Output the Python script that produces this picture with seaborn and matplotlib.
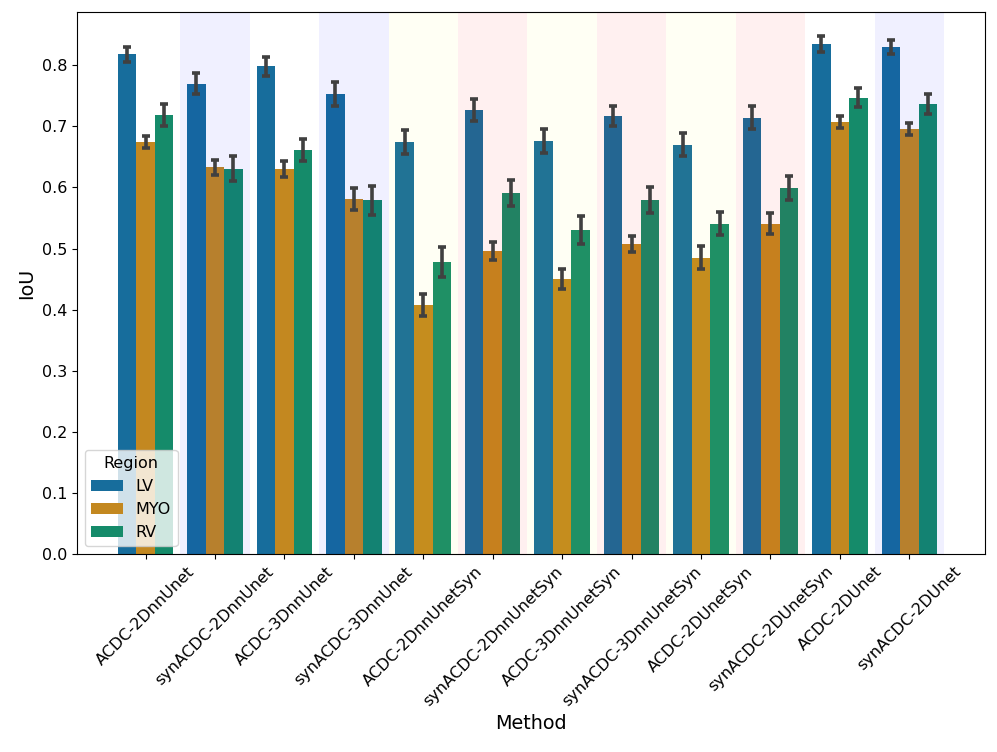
import matplotlib
matplotlib.use('Agg')
import matplotlib.pyplot as plt
import numpy as np
import pandas as pd
import seaborn as sns

methods = ['ACDC-2DnnUnet', 'synACDC-2DnnUnet', 'ACDC-3DnnUnet', 'synACDC-3DnnUnet',
           'ACDC-2DnnUnetSyn', 'synACDC-2DnnUnetSyn', 'ACDC-3DnnUnetSyn', 'synACDC-3DnnUnetSyn',
           'ACDC-2DUnetSyn', 'synACDC-2DUnetSyn', 'ACDC-2DUnet', 'synACDC-2DUnet']
regions = ['LV', 'MYO', 'RV']

lv_mean = [0.818, 0.770, 0.798, 0.753, 0.674, 0.726, 0.676, 0.717, 0.670, 0.714, 0.834, 0.830]
myo_mean = [0.674, 0.633, 0.630, 0.581, 0.408, 0.496, 0.450, 0.508, 0.485, 0.541, 0.707, 0.696]
rv_mean = [0.718, 0.631, 0.661, 0.579, 0.478, 0.591, 0.531, 0.579, 0.541, 0.599, 0.747, 0.737]

lv_err = [0.012, 0.017, 0.016, 0.020, 0.020, 0.018, 0.020, 0.017, 0.019, 0.019, 0.013, 0.012]
myo_err = [0.010, 0.012, 0.013, 0.018, 0.018, 0.014, 0.016, 0.013, 0.019, 0.017, 0.010, 0.010]
rv_err = [0.018, 0.021, 0.018, 0.024, 0.025, 0.022, 0.023, 0.021, 0.019, 0.019, 0.015, 0.016]

# background shading per method (None = no band)
span_colors = [None, 'blue', None, 'blue', 'yellow', 'red', 'yellow', 'red', 'yellow', 'red', None, 'blue']

plt.rcParams['font.size'] = 11.5

df = pd.DataFrame({
    'Method': methods * 3,
    'Region': np.repeat(regions, len(methods)),
    'IoU': lv_mean + myo_mean + rv_mean,
})
errs = [lv_err, myo_err, rv_err]

fig, ax = plt.subplots(figsize=(9.97, 7.52), dpi=100)
sns.barplot(data=df, x='Method', y='IoU', hue='Region', order=methods, hue_order=regions,
            palette='colorblind', errorbar=None, ax=ax)

# error bars on top of each bar
for cont, err in zip(ax.containers, errs):
    xs = [b.get_x() + b.get_width() / 2 for b in cont]
    ys = [b.get_height() for b in cont]
    ax.errorbar(xs, ys, yerr=err, fmt='none', ecolor='#404040', elinewidth=2.6,
                capsize=3, capthick=2.6, zorder=3)

for i, c in enumerate(span_colors):
    if c is not None:
        alpha = 0.045 if c == 'yellow' else 0.06
        ax.axvspan(i - 0.5, i + 0.5, color=c, alpha=alpha, lw=0)

ax.set_xlim(-0.99, 12.09)
ax.set_ylim(0, 0.887)
ax.set_xlabel('Method', fontsize=13.8)
ax.set_ylabel('IoU', fontsize=13.8)
plt.xticks(rotation=45)
ax.legend(title='Region', loc='lower left', fontsize=11.5, title_fontsize=11.5)

fig.subplots_adjust(left=0.077, right=0.988, top=0.984, bottom=0.263)
fig.savefig('out.png', dpi=100)
